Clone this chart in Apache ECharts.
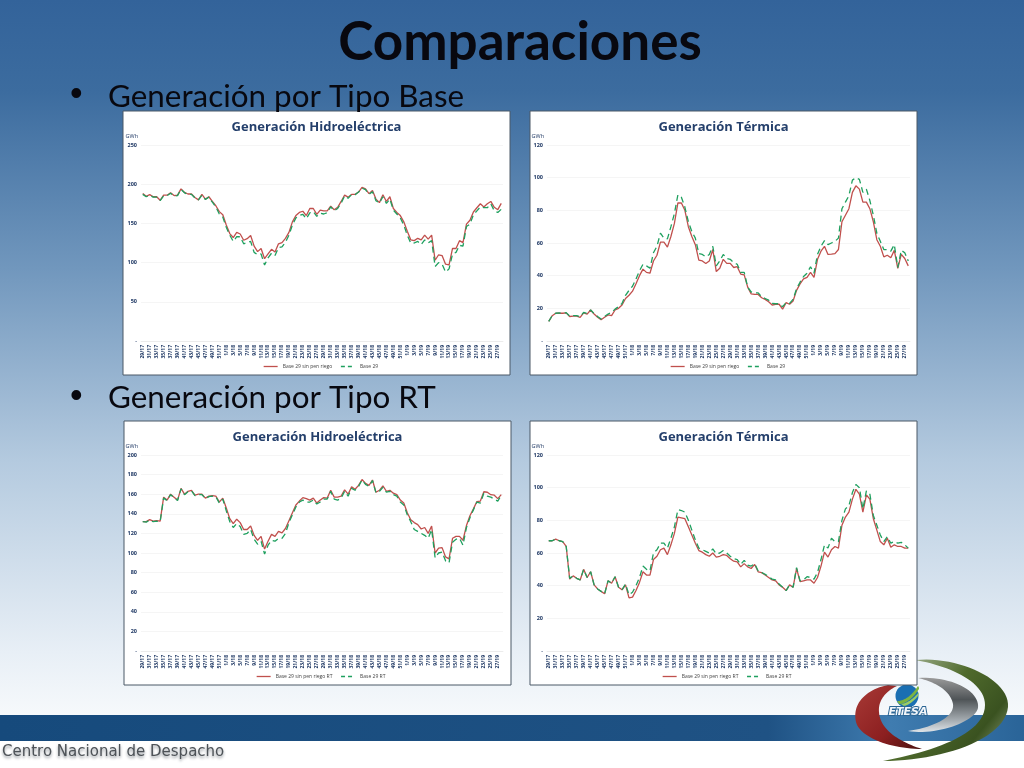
<!DOCTYPE html>
<html><head><meta charset="utf-8">
<style>html,body{margin:0;padding:0;background:#fff}#c{width:1024px;height:768px}</style>
<script src="https://cdn.jsdelivr.net/npm/echarts@6/dist/echarts.min.js"></script>
</head><body><div id="c"></div>
<script>
const weeks = [
"29/17","30/17","31/17","32/17","33/17","34/17","35/17","36/17","37/17","38/17","39/17","40/17","41/17","42/17","43/17","44/17","45/17","46/17","47/17","48/17","49/17","50/17","51/17","52/17",
"1/18","2/18","3/18","4/18","5/18","6/18","7/18","8/18","9/18","10/18","11/18","12/18","13/18","14/18","15/18","16/18","17/18","18/18","19/18","20/18","21/18","22/18","23/18","24/18","25/18","26/18","27/18","28/18","29/18","30/18","31/18","32/18","33/18","34/18","35/18","36/18","37/18","38/18","39/18","40/18","41/18","42/18","43/18","44/18","45/18","46/18","47/18","48/18","49/18","50/18","51/18","52/18",
"1/19","2/19","3/19","4/19","5/19","6/19","7/19","8/19","9/19","10/19","11/19","12/19","13/19","14/19","15/19","16/19","17/19","18/19","19/19","20/19","21/19","22/19","23/19","24/19","25/19","26/19","27/19","28/19"];

const hidroBaseSinRiego = [
188,184.5,186.7,184,184,179.5,186,186,189,185.5,
186,194,189.5,187.5,187.5,183,180,187,181,184,
178,172.5,165,161,148,137,132,138.5,136.5,128.5,
130.5,134.5,121,114,118,105,111,117,113.5,124,
125.5,131,138.5,152,160,164,165.5,160,169,169,
161.5,167,166,166,172,167.5,170.5,178,186,183.5,
187,187,190,196,194,188,192,181,176.5,186.5,
178,184,169,164,160,152,140,129,128,131,
129,135,130,135,103,110,109,98,97,118,
118,128,125.5,149,154,164.5,170,175,171,175,
178,170.5,167.5,175.5];
const hidroBase = [
187,184,186,183.5,183.5,179,185,185.5,188.5,185,
185.5,193.5,189,187,187,182.5,180,186,180.5,183.5,
177,171,162,158,145,135,127,133,133,124,
125.5,127,113,110,111,97,106,112,109,119,
120,126,135,148,157,160,161.5,156,163.5,165,
159,163,162,163.5,171,166,169,176,185,182,
187,186.5,190,195,193,187,190.5,179,176,184,
175.5,181,167,162,157,148,135,125,125,127,
123,129,125,128,95,100,98,88,92,111,
113,122,121,146,149,161,166,171,170,170,
175,166,164,168];
const termicaBaseSinRiego = [
12,15.5,17,17,17,17.2,15,15.2,15.2,14.5,
17.2,16.5,19,16.5,14.5,13,14.5,16,15.5,19,
20,22,26,28,30.5,35,40,44,42,41.5,
49,52.5,60.5,60.5,57.5,64,72,84.5,84.5,80,
70,64,59,49.5,49,47.5,49,56,42.5,44.5,
50,47.5,47.5,45,45.5,41,40.5,33,28.8,28.5,
28.5,26.5,25.5,24,22,22.5,22.5,19.5,23.5,22.5,
24.5,31,35,38,39,42,39,50,55,58,
53,53.2,53.5,56,73,77,81,91,95,93,
85,85,81,73,62,58,51.5,52.5,51,55.5,
44.5,53,50.5,46];
const termicaBase = [
12,15.5,17,17.2,17,17.4,15.2,15.5,15.5,14.8,
17.5,16.8,19,16.8,15,13.5,15,16.5,17.5,19.5,
21,23,28,31,33.5,38,43,47,46,44.5,
54,58,66,63,62.5,70,78,89.5,88,82,
73,67,63,53.5,53,51.5,53,58,46,49,
53,50.5,50,48,47,42,42,33,30,29.5,
29.5,27,26,25,23,22.8,22.8,21,23.5,23,
25.5,32,36,39.5,41.5,45.5,41.5,53,58,61.5,
59,60,61,63,81,85,89,98.5,100,99,
91,93,86,77,66,61,56,56,55,59,
45,55.5,54,49];
const hidroRTSinRiego = [
132,132,134,132.5,133,132.5,157,154,160,157,
154,166,160,163,164,159,160,160,156,158,
158.5,158,152,156,146,135,130,134.5,131,124,
124,127.5,118,113,117,104,112,119,117,122,
120.5,125,133,141,149,153,156.5,155.5,154,156,
151,154,156.5,156,164,157,157,158,164.5,160,
167.5,165,169,175,171,169,174.5,162,164,168.5,
163,164,161,159.5,154,151,141,134,131,129,
124.5,126,120,127.5,100,105,105.5,96,94,115,
117,117,113,128,138,145,152.5,153,162.5,162,
159.5,159,155.5,159.5];
const hidroRT = [
132,131.5,133.5,132,132.5,132,156,153.5,159.5,156.5,
153.5,165.5,159.5,162.5,163.5,158.5,159.5,159.5,155.5,157.5,
158,157.5,151,155,143,132,126,130,127,119,
120,124,114,109,112,99,108,113,112,115,
115,120,131,139,147,152,154,152,152,154,
150,152,155,155,163,155,154,156,163,158,
166,164,168,174.5,170,168,174,161.5,163,167,
162,163,159.5,158,152,149,139,132,124,122,
120,118,115,124,95,100,101,92,90,111,
114,115,108,126,136,144,152,151,161,158,
157,155,153,159];
const termicaRTSinRiego = [
67.5,67.5,68.5,67.5,67,64,44,46,44.5,43.5,
50,45,48.5,40.5,38,36.5,35,43,41.5,45.5,
39,37.5,40.5,32.5,33,37,42,48.5,46.5,46.5,
56,58,62,63,59,65,72,82,81.5,81,
76,71,66,61.5,60.5,59,58,60,57.5,58,
59,58.5,56.5,55,54.5,51.5,53.5,51.5,50.5,53,
48.5,48,46.5,45,43.5,43,40.5,39,37,40.5,
39,50.5,42.5,43,43.5,43.5,41.5,45,52,60.5,
57.5,62,64,63,77,82,85,93,99,96,
85,95.5,93,81,74,67,65,69,63.5,65,
64,64,63,63];
const termicaRT = [
67.5,67.5,68.5,67.5,67,64,44.5,46,44.5,43.5,
50,45,48.5,40.5,38,36.5,35,43,41.5,45.5,
39,37.5,41,34.5,36,40,45,52,50,49,
60,62,66,66,63,69,76,86.5,86,85,
80,74,68,63,62,61,60,62.5,59.5,60,
61.5,60,58,56.5,56,53,55.5,52.5,52,53.5,
49,48,47,45.5,44,43.5,41,39,37,40.5,
39,51,43,43.5,45.5,45,44,48,56,65,
63,69,67,67,80,87,89,97,102,100,
87,98,96,83,77,71,67,70,66,67,
66,66.5,65,63];

const RED='#c0504d', GREEN='#1fa05f', NAVY='#1f3864';
const panels=[
 {box:[123,111,387,264],plot:[141,145,362,196],legendX:263,title:'Generación Hidroeléctrica',max:250,step:50,a:hidroBaseSinRiego,b:hidroBase,na:'Base 29 sin pen riego',nb:'Base 29'},
 {box:[530,111,387,264],plot:[547,145,363,196],legendX:670,title:'Generación Térmica',max:120,step:20,a:termicaBaseSinRiego,b:termicaBase,na:'Base 29 sin pen riego',nb:'Base 29'},
 {box:[124,421,387,264],plot:[141,455,362,196],legendX:256,title:'Generación Hidroeléctrica',max:200,step:20,a:hidroRTSinRiego,b:hidroRT,na:'Base 29 sin pen riego RT',nb:'Base 29 RT'},
 {box:[530,421,387,264],plot:[547,455,363,196],legendX:662,title:'Generación Térmica',max:120,step:20,a:termicaRTSinRiego,b:termicaRT,na:'Base 29 sin pen riego RT',nb:'Base 29 RT'}
];

// Decorative logo shapes: each outline is a chain of cubic curves, sampled for a polygon.
function outline(start,curves){
 const pts=[start];let p=start;
 curves.forEach(c=>{
  for(let k=1;k<=24;k++){const t=k/24,u=1-t;
   pts.push([u*u*u*p[0]+3*u*u*t*c[0]+3*u*t*t*c[2]+t*t*t*c[4],u*u*u*p[1]+3*u*u*t*c[1]+3*u*t*t*c[3]+t*t*t*c[5]]);}
  p=[c[4],c[5]];
 });
 return pts;
}
const graphic=[
 {type:'rect',z:-20,silent:true,shape:{x:0,y:0,width:1024,height:768},style:{fill:{type:'linear',x:0,y:0,x2:0,y2:1,colorStops:[{offset:0,color:'#33639a'},{offset:.12,color:'#3c6c9f'},{offset:.35,color:'#7197bd'},{offset:.6,color:'#b4cadf'},{offset:.85,color:'#e8eff6'},{offset:.93,color:'#f6f9fb'},{offset:1,color:'#ffffff'}]}}},
 {type:'rect',z:-19,silent:true,shape:{x:0,y:741,width:1024,height:27},style:{fill:'#ffffff'}},
 {type:'rect',z:-19,silent:true,shape:{x:0,y:715,width:1024,height:26},style:{fill:{type:'linear',x:0,y:0,x2:1,y2:0,colorStops:[{offset:0,color:'#164a7c'},{offset:.75,color:'#1f5284'},{offset:.87,color:'#3f7cb0'},{offset:1,color:'#2a6498'}]}}},
 {type:'polygon',z:-18,silent:true,shape:{points:outline([888,685],[[864,690,852,705,856,722],[860,738,892,749,922,749],[900,742,880,730,879,712],[878,702,884,692,897,686]])},style:{fill:{type:'linear',x:0,y:0,x2:1,y2:1,colorStops:[{offset:0,color:'#a83a36'},{offset:.6,color:'#8c1f20'},{offset:1,color:'#4a1210'}]}}},
 {type:'polygon',z:-18,silent:true,shape:{points:outline([915,660],[[960,656,1010,680,1008,707],[1005,740,940,761,883,761],[930,752,985,735,985,705],[985,680,945,665,915,660]])},style:{fill:{type:'linear',x:0,y:0,x2:1,y2:1,colorStops:[{offset:0,color:'#b9c6ae'},{offset:.45,color:'#4f6a2c'},{offset:.75,color:'#3a5220'},{offset:1,color:'#97a882'}]}}},
 {type:'polygon',z:-18,silent:true,shape:{points:outline([918,678],[[950,676,980,690,978,708],[975,722,935,736,908,731],[930,728,955,718,953,704],[950,690,935,682,918,678]])},style:{fill:{type:'linear',x:0,y:0,x2:0,y2:1,colorStops:[{offset:0,color:'#9a9a9a'},{offset:.4,color:'#4f5457'},{offset:.8,color:'#a9b0b5'},{offset:1,color:'#dfe4e8'}]}}},
 {type:'circle',z:-18,silent:true,shape:{cx:907,cy:696,r:11.5},style:{fill:'#1a6fb2'}},
 {type:'polygon',z:-17,silent:true,shape:{points:outline([897,701],[[905,701,912,695,918,686],[919,687,919,688,919,689],[913,698,906,704,899,704]])},style:{fill:'#7cb342'}},
 {type:'polygon',z:-17,silent:true,shape:{points:outline([901,704],[[908,703,914,698,919,692],[919,693,918,695,918,696],[914,701,909,705,904,706]])},style:{fill:'#9ccc65'}}
];
panels.forEach(p=>{graphic.push({type:'rect',z:-10,silent:true,shape:{x:p.box[0],y:p.box[1],width:p.box[2],height:p.box[3]},style:{fill:'#ffffff',stroke:'#4a5866',lineWidth:1}})});

const title=[
 {text:'Comparaciones',left:515,top:11,textAlign:'center',textStyle:{fontFamily:'Lato',fontWeight:'bold',fontSize:53,color:'#08080f'}},
 {text:'•',left:65,top:72.5,textStyle:{fontFamily:'Liberation Sans',fontWeight:'normal',fontSize:36,color:'#08080f'}},
 {text:'Generación por Tipo Base',left:103,top:76,textStyle:{fontFamily:'Lato',fontWeight:'normal',fontSize:31.4,color:'#08080f'}},
 {text:'•',left:65,top:374.5,textStyle:{fontFamily:'Liberation Sans',fontWeight:'normal',fontSize:36,color:'#08080f'}},
 {text:'Generación por Tipo RT',left:103,top:377,textStyle:{fontFamily:'Lato',fontWeight:'normal',fontSize:31.4,color:'#08080f'}},
 {text:'Centro Nacional de Despacho',left:-3,top:740,textStyle:{fontFamily:'DejaVu Sans',fontWeight:'normal',fontSize:15,color:'#4d5257',textShadowColor:'rgba(60,70,80,.6)',textShadowBlur:3,textShadowOffsetY:2}},
 {text:'ETESA',left:903,top:702,textAlign:'center',textStyle:{fontFamily:'DejaVu Sans',fontWeight:'bold',fontStyle:'italic',fontSize:11,color:'#f2f6fa',textBorderColor:'#2c6695',textBorderWidth:2}}
];
const grid=[],xAxis=[],yAxis=[],series=[],legend=[];
panels.forEach((p,i)=>{
 const cx=p.box[0]+p.box[2]/2;
 title.push({text:p.title,left:cx-5,top:p.box[1]+5,textAlign:'center',textStyle:{fontFamily:'Open Sans',fontWeight:'bold',fontSize:13,color:'#243f6b'}});
 grid.push({left:p.plot[0],top:p.plot[1],width:p.plot[2],height:p.plot[3],containLabel:false});
 xAxis.push({type:'category',gridIndex:i,data:weeks,boundaryGap:true,
  axisLine:{lineStyle:{color:'#e6e6e6',width:.6}},axisTick:{show:false},
  axisLabel:{interval:1,rotate:90,fontSize:5,margin:4,color:NAVY,fontFamily:'Open Sans',fontWeight:'bold'}});
 yAxis.push({type:'value',gridIndex:i,min:0,max:p.max,interval:p.step,name:'GWh',nameLocation:'end',nameGap:6,
  nameTextStyle:{fontSize:5.5,color:NAVY,fontFamily:'Open Sans',align:'right',padding:[0,3,0,0]},
  axisLine:{show:false},axisTick:{show:false},splitLine:{lineStyle:{color:'#f1f1f1',width:.7}},
  axisLabel:{fontSize:5.5,margin:4,color:NAVY,fontFamily:'Open Sans',fontWeight:'bold',formatter:v=>v===0?'-':String(v)}});
 series.push({name:p.na,type:'line',xAxisIndex:i,yAxisIndex:i,data:p.a,symbol:'none',z:3,lineStyle:{color:RED,width:1.3},itemStyle:{color:RED},animation:false});
 series.push({name:p.nb,type:'line',xAxisIndex:i,yAxisIndex:i,data:p.b,symbol:'none',z:4,lineStyle:{color:GREEN,width:1.3,type:[6,4]},itemStyle:{color:GREEN},animation:false});
 legend.push({data:[{name:p.na,lineStyle:{color:RED,width:1.3,type:'solid'}},{name:p.nb,lineStyle:{color:GREEN,width:1.3,type:[4,3]}}],left:p.legendX,top:p.box[1]+p.box[3]-11,padding:0,orient:'horizontal',itemWidth:14,itemHeight:6,itemGap:8,selectedMode:false,itemStyle:{opacity:0},textStyle:{fontSize:5,color:'#444',fontFamily:'Open Sans'}});
});
const chart=echarts.init(document.getElementById('c'),null,{renderer:'canvas',width:1024,height:768});
chart.setOption({animation:false,backgroundColor:'transparent',graphic:{elements:graphic},title,grid,xAxis,yAxis,series,legend});
</script></body></html>
